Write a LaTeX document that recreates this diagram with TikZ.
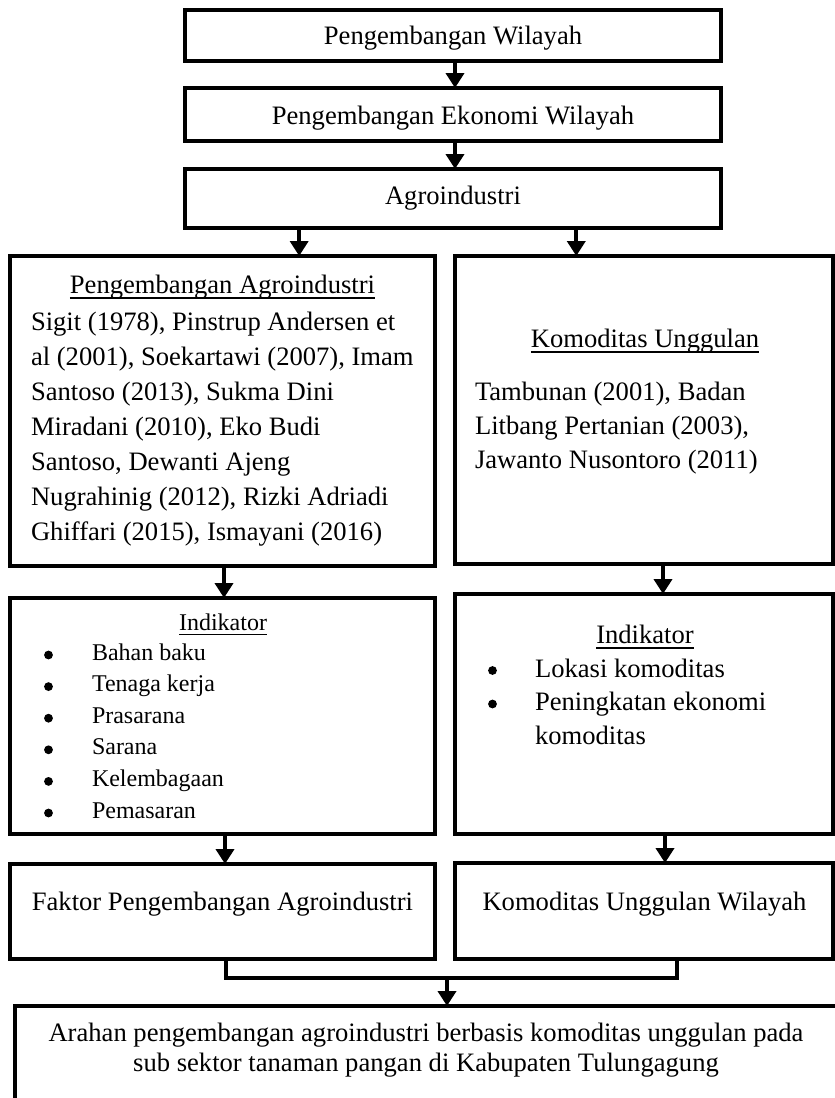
\documentclass[tikz,border=0pt]{standalone}
\usepackage{fontspec}
\setmainfont{Liberation Serif}
\usetikzlibrary{arrows.meta,calc}
\tikzset{
  frame/.style={draw, line width=3.3pt, inner sep=0pt, outer sep=0pt},
  conn/.style={line width=3.3pt},
  arr/.style={line width=4pt, -{Triangle[width=18pt,length=15pt]}},
  txt/.style={inner sep=0pt, outer sep=0pt, font=\fontsize{26.6}{35}\selectfont},
  small/.style={font=\fontsize{24}{31.6}\selectfont},
  ulrule/.style={line width=1.8pt}
}
\begin{document}
\begin{tikzpicture}[x=1pt,y=-1pt]
\clip (0,0) rectangle (835,1098);

% boxes
\node[frame, minimum width=536pt, minimum height=51pt] (wil)  at (453,35.5) {};
\node[frame, minimum width=536pt, minimum height=53pt] (eko)  at (453,114.5) {};
\node[frame, minimum width=536pt, minimum height=59pt] (agro) at (453,198.5) {};
\node[frame, minimum width=425pt, minimum height=310pt] (pa)  at (222.5,411) {};
\node[frame, minimum width=378pt, minimum height=308pt] (ku)  at (644,410) {};
\node[frame, minimum width=425pt, minimum height=236pt] (ind1) at (222.5,716) {};
\node[frame, minimum width=378pt, minimum height=240pt] (ind2) at (644,714) {};
\node[frame, minimum width=425pt, minimum height=95pt]  (fak) at (222.5,911.5) {};
\node[frame, minimum width=378pt, minimum height=96pt]  (kuw) at (644,911) {};
\node[frame, minimum width=885pt, minimum height=144pt] (arah) at (457.5,1078) {};

% texts of the upper chain
\node[txt, anchor=base] (twil)  at (453,44)  {Pengembangan Wilayah};
\node[txt, anchor=base] (teko)  at (453,124) {Pengembangan Ekonomi Wilayah};
\node[txt, anchor=base] (tagro) at (453,204) {Agroindustri};

% left column, references
\node[txt, anchor=base] (tpa) at (222.5,293) {Pengembangan Agroindustri};
\draw[ulrule] ($(tpa.base west)+(0,5)$) -- ($(tpa.base east)+(0,5)$);
\node[txt, anchor=base west, text width=400pt, align=flush left] (tpacite) at (31,330)
  {Sigit (1978), Pinstrup Andersen et\\
   al (2001), Soekartawi (2007), Imam\\
   Santoso (2013), Sukma Dini\\
   Miradani (2010), Eko Budi\\
   Santoso, Dewanti Ajeng\\
   Nugrahinig (2012), Rizki Adriadi\\
   Ghiffari (2015), Ismayani (2016)};

% right column, references
\node[txt, anchor=base] (tku) at (645,347) {Komoditas Unggulan};
\draw[ulrule] ($(tku.base west)+(0,5)$) -- ($(tku.base east)+(0,5)$);
\node[txt, anchor=base west, text width=350pt, align=flush left,
      font=\fontsize{26.6}{34}\selectfont] (tkucite) at (475,400)
  {Tambunan (2001), Badan\\
   Litbang Pertanian (2003),\\
   Jawanto Nusontoro (2011)};

% indicators, left
\node[txt, small, anchor=base] (tind1) at (223,630) {Indikator};
\draw[ulrule] ($(tind1.base west)+(0,4.5)$) -- ($(tind1.base east)+(0,4.5)$);
\node[txt, small, anchor=base west, text width=330pt, align=flush left] (tind1list) at (92,660)
  {Bahan baku\\
   Tenaga kerja\\
   Prasarana\\
   Sarana\\
   Kelembagaan\\
   Pemasaran};
\foreach \k in {0,...,5}
  \fill (48.5,655-31.6*\k*-1) circle (4.4pt);

% indicators, right
\node[txt, anchor=base] (tind2) at (645,643) {Indikator};
\draw[ulrule] ($(tind2.base west)+(0,5)$) -- ($(tind2.base east)+(0,5)$);
\node[txt, anchor=base west, text width=290pt, align=flush left,
      font=\fontsize{26.6}{33.5}\selectfont] (tind2list) at (535,677)
  {Lokasi komoditas\\
   Peningkatan ekonomi\\
   komoditas};
\fill (492.5,670.5) circle (4.4pt);
\fill (492.5,704) circle (4.4pt);

% results
\node[txt, anchor=base] (tfak) at (222.5,910) {Faktor Pengembangan Agroindustri};
\node[txt, anchor=base] (tkuw) at (644.5,910) {Komoditas Unggulan Wilayah};

% final direction
\node[txt, anchor=base, text width=820pt, align=flush center,
      font=\fontsize{26.6}{30}\selectfont] (tarah) at (426,1041)
  {Arahan pengembangan agroindustri berbasis komoditas unggulan pada\\
   sub sektor tanaman pangan di Kabupaten Tulungagung};

% connectors
\draw[arr] ([xshift=2pt]wil.south) -- ([xshift=2pt]eko.north);
\draw[arr] ([xshift=2pt]eko.south) -- ([xshift=2pt]agro.north);
\coordinate (bl) at ($(agro.south west)!0.213!(agro.south east)$);
\coordinate (br) at ($(agro.south west)!0.730!(agro.south east)$);
\draw[arr] (bl) -- (bl |- pa.north);
\draw[arr] (br) -- (br |- ku.north);
\draw[arr] ([xshift=1.5pt]pa.south) -- ([xshift=1.5pt]pa.south |- ind1.north);
\draw[arr] ([xshift=19pt]ku.south) -- ([xshift=19pt]ku.south |- ind2.north);
\draw[arr] ([xshift=2.5pt]ind1.south) -- ([xshift=2.5pt]ind1.south |- fak.north);
\draw[arr] ([xshift=21pt]ind2.south) -- ([xshift=21pt]ind2.south |- kuw.north);
\coordinate (jl) at ([xshift=3.5pt]fak.south);
\coordinate (jr) at ([xshift=33pt]kuw.south);
\coordinate (jm) at (447,978);
\draw[conn] (jl) |- (jm -| jr) -- (jr);
\draw[arr] (jm) -- (jm |- arah.north);
\end{tikzpicture}
\end{document}
